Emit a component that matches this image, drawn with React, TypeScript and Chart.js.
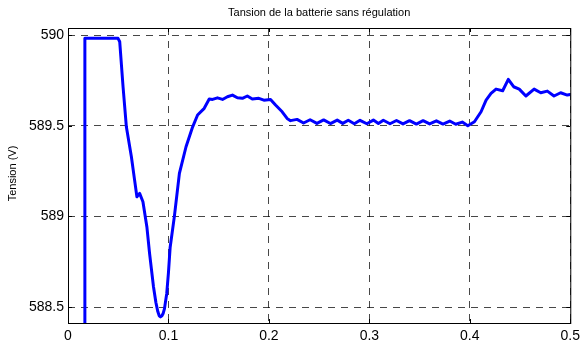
import React, { useEffect, useRef } from "react";
import { Chart, registerables } from "chart.js";

Chart.register(...registerables);

const titleText = "Tansion de la batterie sans régulation";
const yAxisLabel = "Tension (V)";

const xTicks = [0, 0.1, 0.2, 0.3, 0.4, 0.5];
const xTickLabels = ["0", "0.1", "0.2", "0.3", "0.4", "0.5"];
const yTicks = [588.5, 589, 589.5, 590];
const yTickLabels = ["588.5", "589", "589.5", "590"];

const timeValues = [
  0.0168, 0.0168, 0.0498, 0.0515, 0.0548, 0.0581, 0.0631, 0.0663, 0.0686, 0.0713,
  0.0746, 0.0785, 0.0812, 0.0851, 0.0875, 0.0894, 0.0908, 0.0921, 0.0935, 0.0948,
  0.096, 0.0983, 0.1000, 0.1017, 0.1059,
  0.1109, 0.1175, 0.1241, 0.129, 0.1356, 0.1406, 0.1439, 0.1488, 0.1538, 0.1587,
  0.1637, 0.1686, 0.1736, 0.1785, 0.1835, 0.19, 0.195, 0.2016, 0.2066, 0.2132,
  0.2181, 0.2215, 0.228, 0.2345, 0.241, 0.2478, 0.2545, 0.2612, 0.268, 0.2735,
  0.279, 0.285, 0.2907, 0.2975, 0.304, 0.309, 0.3139, 0.3205, 0.327, 0.3335,
  0.34, 0.3468, 0.3535, 0.36, 0.3667, 0.3733, 0.38, 0.386, 0.3925, 0.398,
  0.4046, 0.4112, 0.4162, 0.4211, 0.4261, 0.4327, 0.4383, 0.4436, 0.4492, 0.4558,
  0.464, 0.4706, 0.4772, 0.4838, 0.4904, 0.497, 0.5,
];

const voltageValues = [
  588.0, 589.982, 589.982, 589.963, 589.715, 589.494, 589.329, 589.2, 589.108, 589.127,
  589.081, 588.943, 588.796, 588.612, 588.525, 588.475, 588.452, 588.446, 588.452, 588.466,
  588.49, 588.575, 588.69, 588.83, 589.0,
  589.237, 589.384, 589.494, 589.559, 589.596, 589.647, 589.645, 589.654, 589.645, 589.66,
  589.669, 589.654, 589.651, 589.664, 589.647, 589.651, 589.641, 589.645, 589.614, 589.577,
  589.54, 589.528, 589.535, 589.515, 589.533, 589.513, 589.532, 589.512, 589.531, 589.513,
  589.53, 589.511, 589.53, 589.511, 589.531, 589.512, 589.53, 589.511, 589.529, 589.51,
  589.528, 589.509, 589.528, 589.51, 589.527, 589.509, 589.526, 589.508, 589.52, 589.5,
  589.522, 589.577, 589.641, 589.678, 589.702, 589.693, 589.756, 589.715, 589.702, 589.664,
  589.702, 589.682, 589.691, 589.664, 589.682, 589.669, 589.672,
];

const FONT = "'Liberation Sans', Arial, Helvetica, sans-serif";

const framePlugin = {
  id: "matlabFrame",
  afterDraw(chart: any) {
    const { ctx, chartArea } = chart;
    const { left, right, top, bottom } = chartArea;
    const xs = chart.scales.x;
    const ys = chart.scales.y;
    ctx.save();
    ctx.strokeStyle = "#000";
    ctx.lineWidth = 1;
    ctx.setLineDash([]);
    ctx.beginPath();
    const tl = 4;
    xTicks.forEach((v) => {
      const px = Math.round(xs.getPixelForValue(v)) + 0.5;
      ctx.moveTo(px, bottom);
      ctx.lineTo(px, bottom - tl);
      ctx.moveTo(px, top);
      ctx.lineTo(px, top + tl);
    });
    yTicks.forEach((v) => {
      const py = Math.round(ys.getPixelForValue(v)) + 0.5;
      ctx.moveTo(left, py);
      ctx.lineTo(left + tl, py);
      ctx.moveTo(right, py);
      ctx.lineTo(right - tl, py);
    });
    ctx.stroke();
    ctx.strokeRect(left + 0.5, top + 0.5, right - left, bottom - top);

    ctx.fillStyle = "#000";
    ctx.font = `11px ${FONT}`;
    ctx.textAlign = "center";
    ctx.textBaseline = "middle";
    ctx.fillText(titleText, (left + right) / 2, 13);

    ctx.translate(13, (top + bottom) / 2 - 2);
    ctx.rotate(-Math.PI / 2);
    ctx.fillText(yAxisLabel, 0, 0);
    ctx.restore();
  },
};

export default function App() {
  const canvasRef = useRef<HTMLCanvasElement | null>(null);

  useEffect(() => {
    if (!canvasRef.current) return;
    const points = timeValues.map((t, i) => ({ x: t, y: voltageValues[i] }));
    const gridColor = "rgba(0,0,0,0.72)";
    const chart = new Chart(canvasRef.current, {
      type: "line",
      data: {
        datasets: [
          {
            data: points,
            borderColor: "#0000ff",
            borderWidth: 3,
            borderJoinStyle: "round",
            borderCapStyle: "round",
            pointRadius: 0,
            tension: 0,
            fill: false,
          },
        ],
      },
      options: {
        animation: false,
        responsive: false,
        maintainAspectRatio: false,
        layout: { padding: { top: 28, right: 12, left: 0, bottom: 0 } },
        plugins: {
          legend: { display: false },
          title: { display: false },
          tooltip: { enabled: false },
        },
        scales: {
          x: {
            type: "linear",
            min: 0,
            max: 0.5,
            afterFit: (s: any) => {
              s.height = 26;
            },
            afterBuildTicks: (s: any) => {
              s.ticks = xTicks.map((v) => ({ value: v }));
            },
            ticks: {
              autoSkip: false,
              maxRotation: 0,
              padding: 5,
              color: "#000",
              font: { family: FONT, size: 14 },
              callback: (_v: any, i: number) => xTickLabels[i],
            },
            grid: {
              color: gridColor,
              lineWidth: 1,
              drawTicks: false,
            },
            border: { display: false, dash: [7, 6] },
          },
          y: {
            type: "linear",
            min: 588.412,
            max: 590.039,
            afterFit: (s: any) => {
              s.width = 68;
            },
            afterBuildTicks: (s: any) => {
              s.ticks = yTicks.map((v) => ({ value: v }));
            },
            ticks: {
              autoSkip: false,
              padding: 4,
              color: "#000",
              font: { family: FONT, size: 14 },
              callback: (_v: any, i: number) => yTickLabels[i],
            },
            grid: {
              color: gridColor,
              lineWidth: 1,
              drawTicks: false,
            },
            border: { display: false, dash: [7, 6] },
          },
        },
      },
      plugins: [framePlugin],
    });
    return () => chart.destroy();
  }, []);

  return (
    <div style={{ position: "absolute", left: 0, top: 0, width: 585, height: 349, background: "#fff" }}>
      <canvas ref={canvasRef} width={585} height={349} style={{ width: 585, height: 349 }} />
    </div>
  );
}
